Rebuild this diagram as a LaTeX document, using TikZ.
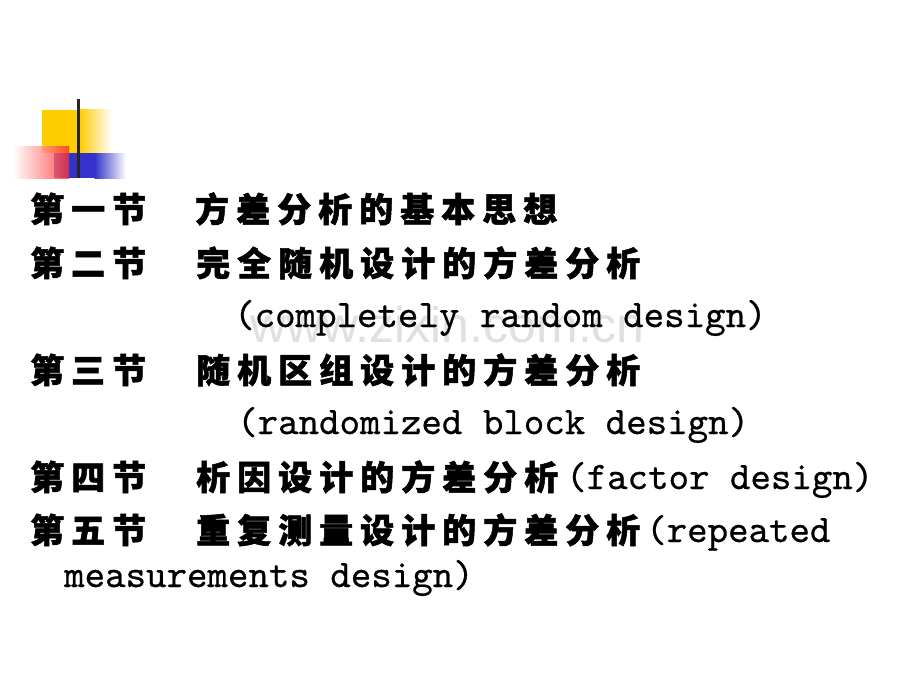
\documentclass[tikz,border=0pt]{standalone}
\usepackage{fontspec}
\newfontfamily\cjk{Noto Sans CJK SC}[LetterSpace=20.6,BoldFeatures={FakeBold=1.5}]
\newfontfamily\lat{lmmono10-regular.otf}[FakeBold=0.6]
\newfontfamily\wmk{Liberation Sans}
\definecolor{decoyellow}{HTML}{FFCC00}
\definecolor{decoblue}{HTML}{3333CC}
\definecolor{decored}{HTML}{FF2A2A}
\tikzset{
  cjktext/.style={anchor=base west,inner sep=0pt,font=\cjk\bfseries\fontsize{34}{34}\selectfont},
  lattext/.style={anchor=base west,inner sep=0pt,font=\lat\fontsize{39}{39}\selectfont},
}
\begin{document}
\begin{tikzpicture}[x=1pt,y=-1pt]
\useasboundingbox (0,0) rectangle (920,690);
\fill[white] (0,0) rectangle (920,690);
% watermark
\node[anchor=base west,inner sep=0pt,text=black!12,font=\wmk\fontsize{50}{50}\selectfont] (wm) at (250,342) {www.zixin.com.cn};
% decoration
\fill[decoyellow] (42,110) rectangle (80,153);
\shade[left color=decoyellow,right color=white] (79.5,110) rectangle (112,153);
\fill[decoblue] (54,153) rectangle (95,178);
\shade[left color=decoblue,right color=white] (94.5,153) rectangle (126,178);
\shade[left color=white,right color=decored,fill opacity=0.8] (13,146) rectangle (69,178);
\fill[black!85] (76.5,99) rectangle (79.5,178);
% text
\node[cjktext] (s1a) at (30,222) {第一节};
\node[cjktext] (s1b) at (195,222) {方差分析的基本思想};
\node[cjktext] (s2a) at (30,276) {第二节};
\node[cjktext] (s2b) at (196,276) {完全随机设计的方差分析};
\node[lattext] (s2c) at (234,327) {(completely random design)};
\node[cjktext] (s3a) at (30,383) {第三节};
\node[cjktext] (s3b) at (196,383) {随机区组设计的方差分析};
\node[lattext] (s3c) at (237,434) {(randomized block design)};
\node[cjktext] (s4a) at (30,490) {第四节};
\node[cjktext] (s4b) at (196,490) {析因设计的方差分析};
\node[lattext] (s4c) at (566,489) {(factor design)};
\node[cjktext] (s5a) at (30,543) {第五节};
\node[cjktext] (s5b) at (196,543) {重复测量设计的方差分析};
\node[lattext] (s5c) at (646,542) {(repeated};
\node[lattext] (s5d) at (64,587) {measurements design)};
\end{tikzpicture}
\end{document}
